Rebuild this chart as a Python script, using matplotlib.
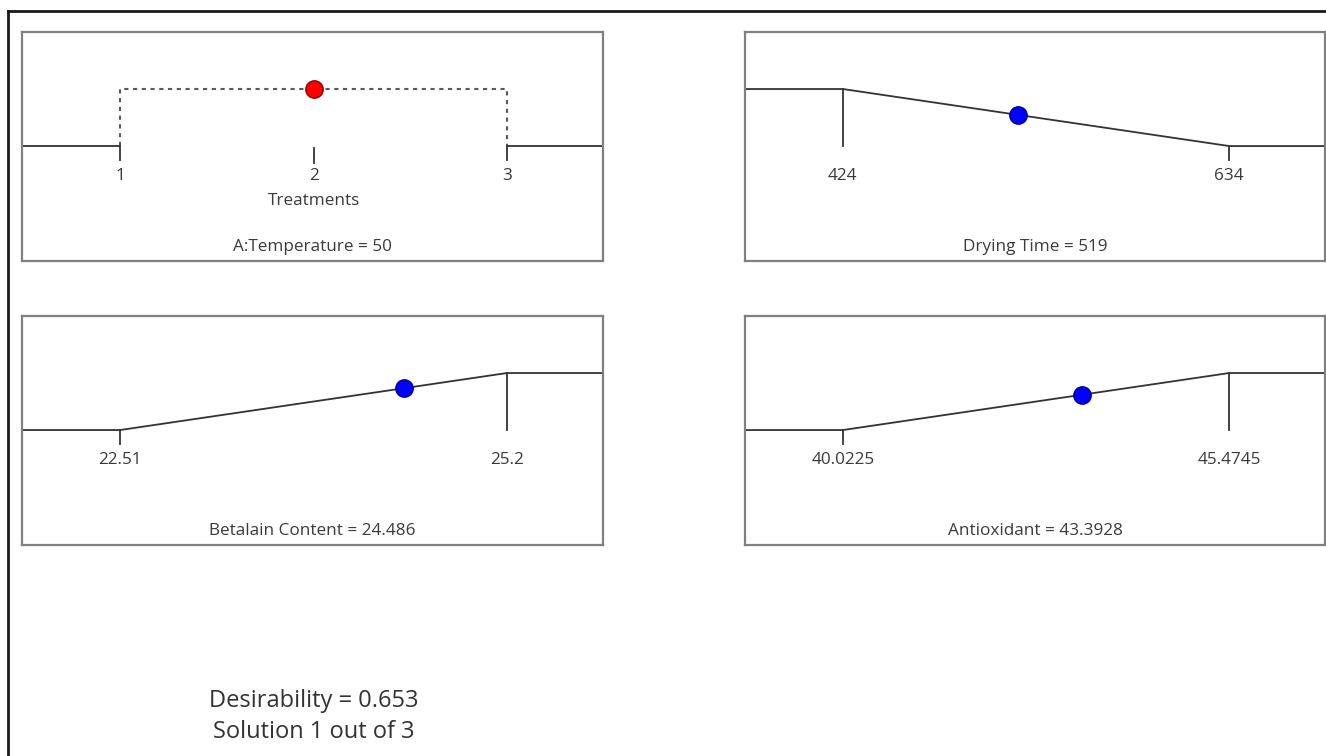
import matplotlib
matplotlib.use('Agg')
import matplotlib.pyplot as plt
from matplotlib.lines import Line2D
from matplotlib.transforms import blended_transform_factory

plt.rcParams['font.family'] = ['Open Sans', 'DejaVu Sans']

# ---------------- data ----------------
treatments = [1, 2, 3]
treatment_selected = 2
factor_name = 'A:Temperature'
factor_value = '50'
factor_axis_label = 'Treatments'

resp_names = ['Drying Time', 'Betalain Content', 'Antioxidant']
resp_low = [424, 22.51, 40.0225]
resp_high = [634, 25.2, 45.4745]
resp_value = [519, 24.486, 43.3928]
resp_goal = ['minimize', 'maximize', 'maximize']
resp_low_labels = ['424', '22.51', '40.0225']
resp_high_labels = ['634', '25.2', '45.4745']
resp_value_labels = ['519', '24.486', '43.3928']

desirability = 0.653
solution_num = 1
solution_total = 3

# ---------------- style ----------------
W, H = 1326, 756
FRAME = '#808080'
LINE = '#333333'
TXT = '#3a3a3a'
FS = 12.3
YLIM = (-2.016, 2.0)
LM, RM, SPAN = 0.1687, 0.1652, 0.666
TICK_DN = -0.25
LABEL_Y = 0.37
TITLE_Y = 0.062

fig = plt.figure(figsize=(W / 100, H / 100), dpi=100)
fig.patch.set_facecolor('white')

# outer frame (left + top)
fig.add_artist(Line2D([8 / W, 1.0], [1 - 11 / H, 1 - 11 / H], transform=fig.transFigure,
                      color='#1a1a1a', lw=2.0))
fig.add_artist(Line2D([8 / W, 8 / W], [0, 1 - 11 / H], transform=fig.transFigure,
                      color='#1a1a1a', lw=2.0))


def make_ax(x0, y0, x1, y1, low, high):
    ax = fig.add_axes([x0 / W, 1 - y1 / H, (x1 - x0) / W, (y1 - y0) / H])
    R = high - low
    ax.set_xlim(low - LM / SPAN * R, high + RM / SPAN * R)
    ax.set_ylim(*YLIM)
    ax.set_xticks([])
    ax.set_yticks([])
    for s in ax.spines.values():
        s.set_color(FRAME)
        s.set_linewidth(1.6)
    return ax


boxes = [(22, 32, 603, 261), (745, 32, 1325, 261), (22, 316, 603, 545), (745, 316, 1325, 545)]

# ---- factor panel (categorical treatments) ----
lo, hi = treatments[0], treatments[-1]
ax = make_ax(*boxes[0], lo, hi)
xl = ax.get_xlim()
tr = blended_transform_factory(ax.transData, ax.transAxes)
ax.plot([xl[0], lo], [0, 0], color=LINE, lw=1.3, solid_capstyle='butt')
ax.plot([hi, xl[1]], [0, 0], color=LINE, lw=1.3, solid_capstyle='butt')
ax.plot([lo, lo, hi, hi], [0, 1, 1, 0], color='#5a5a5a', lw=1.5, linestyle=(0, (2, 2.2)))
for t in treatments:
    if t in (lo, hi):
        ax.plot([t, t], [0, TICK_DN], color=LINE, lw=1.3)
    else:
        ax.plot([t, t], [-0.03, -0.3], color=LINE, lw=1.3)
    ax.text(t, LABEL_Y, str(t), transform=tr, ha='center', va='center', fontsize=FS, color=TXT)
ax.text(treatments[1], 0.262, factor_axis_label, transform=tr, ha='center', va='center',
        fontsize=FS, color=TXT)
ax.text(0.5, TITLE_Y, f'{factor_name} = {factor_value}', transform=ax.transAxes,
        ha='center', va='center', fontsize=FS, color=TXT)
ax.plot([treatment_selected], [1], 'o', ms=12.5, mfc='#ff0000', mec='#900000', mew=1.0, zorder=5)

# ---- response panels ----
for i in range(3):
    lo, hi, v = resp_low[i], resp_high[i], resp_value[i]
    ax = make_ax(*boxes[i + 1], lo, hi)
    xl = ax.get_xlim()
    tr = blended_transform_factory(ax.transData, ax.transAxes)
    if resp_goal[i] == 'maximize':
        dlo, dhi = 0, 1
        d = (v - lo) / (hi - lo)
    else:
        dlo, dhi = 1, 0
        d = 1 - (v - lo) / (hi - lo)
    ax.plot([xl[0], lo, hi, xl[1]], [dlo, dlo, dhi, dhi], color=LINE, lw=1.3,
            solid_joinstyle='miter')
    # ticks
    if resp_goal[i] == 'maximize':
        ax.plot([lo, lo], [0, TICK_DN], color=LINE, lw=1.3)
        ax.plot([hi, hi], [1, 0], color=LINE, lw=1.3)
    else:
        ax.plot([lo, lo], [1, 0], color=LINE, lw=1.3)
        ax.plot([hi, hi], [0, TICK_DN], color=LINE, lw=1.3)
    ax.text(lo, LABEL_Y, resp_low_labels[i], transform=tr, ha='center', va='center',
            fontsize=FS, color=TXT)
    ax.text(hi, LABEL_Y, resp_high_labels[i], transform=tr, ha='center', va='center',
            fontsize=FS, color=TXT)
    ax.text(0.5, TITLE_Y, f'{resp_names[i]} = {resp_value_labels[i]}', transform=ax.transAxes,
            ha='center', va='center', fontsize=FS, color=TXT)
    ax.plot([v], [d], 'o', ms=12.5, mfc='#0000ff', mec='#000090', mew=1.0, zorder=5)

# ---- bottom text ----
fig.text(314 / W, 1 - 701 / H, f'Desirability = {desirability:.3f}', ha='center', va='center',
         fontsize=17, color='#333333')
fig.text(314 / W, 1 - 732 / H, f'Solution {solution_num} out of {solution_total}', ha='center',
         va='center', fontsize=17, color='#333333')

fig.savefig('out.png', dpi=100, facecolor='white')
